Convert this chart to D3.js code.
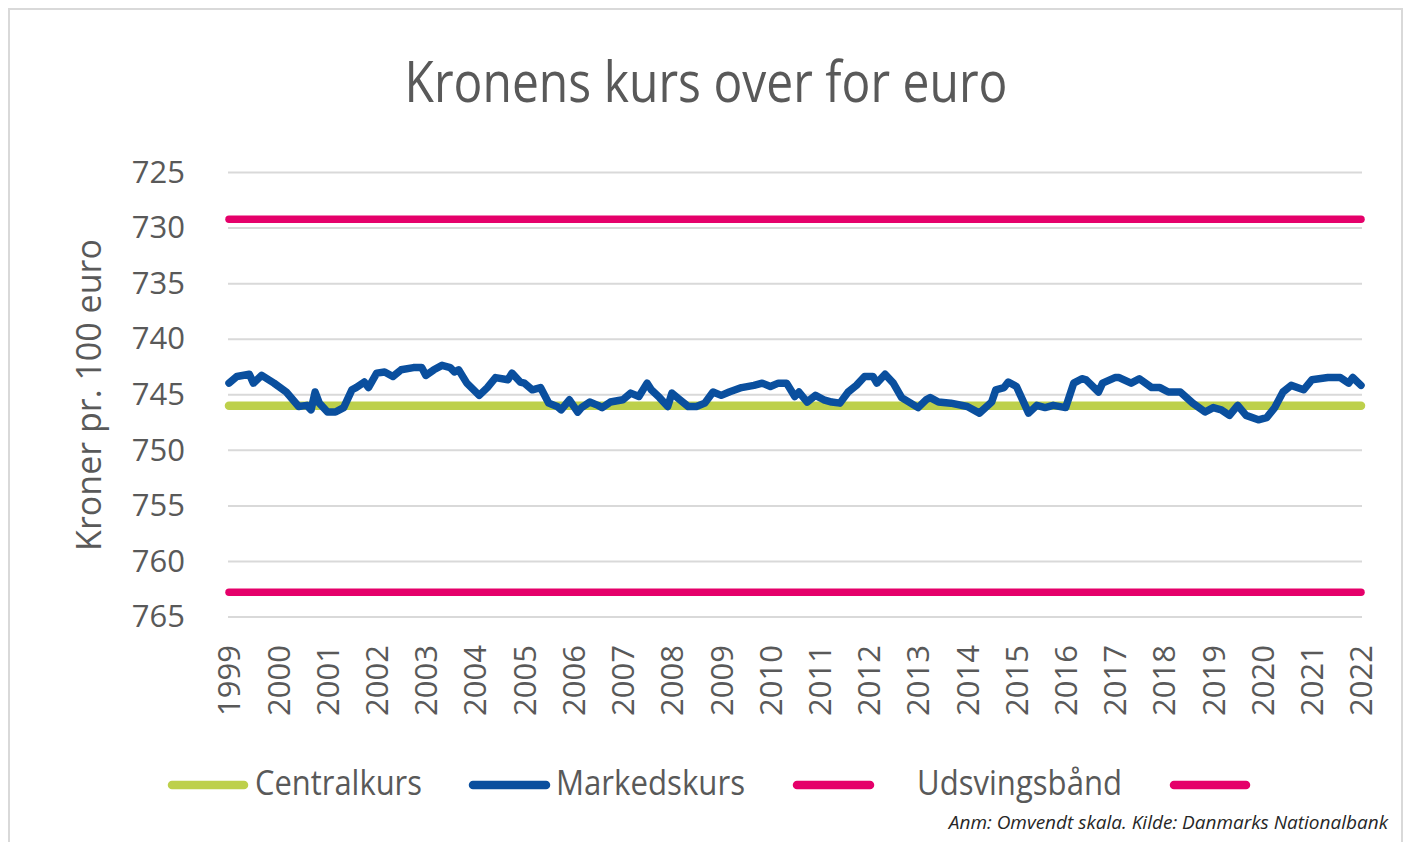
<!DOCTYPE html>
<html>
<head>
<meta charset="utf-8">
<script src="https://cdn.jsdelivr.net/npm/d3@7"></script>
<style>
  html, body { margin: 0; padding: 0; background: #fff; }
  svg { display: block; }
</style>
</head>
<body>
<svg id="chart" width="1411" height="842"></svg>
<script>
// ---- Data ----
const title = "Kronens kurs over for euro";
const yAxisTitle = "Kroner pr. 100 euro";
const footnote = "Anm: Omvendt skala. Kilde: Danmarks Nationalbank";
const yTicks = [725, 730, 735, 740, 745, 750, 755, 760, 765];
const xTickYears = [1999,2000,2001,2002,2003,2004,2005,2006,2007,2008,2009,2010,2011,2012,2013,2014,2015,2016,2017,2018,2019,2020,2021,2022];
const legendLabels = ["Centralkurs", "Markedskurs", "Udsvingsbånd"];

const centralkurs = [746.038];
const udsvingsbaand = [729.252, 762.824];

const months = [
  "1999-01","1999-03","1999-06","1999-07","1999-09","1999-12",
  "2000-03","2000-06","2000-08","2000-09","2000-10","2000-11",
  "2001-01","2001-03","2001-05","2001-07","2001-08","2001-10","2001-11",
  "2002-01","2002-03","2002-05","2002-07","2002-10","2002-12",
  "2003-01","2003-03","2003-05","2003-07","2003-08","2003-09","2003-11",
  "2004-02","2004-04","2004-06","2004-09","2004-10","2004-12",
  "2005-01","2005-03","2005-05","2005-07","2005-09","2005-10","2005-12",
  "2006-02","2006-03","2006-05","2006-07","2006-08","2006-10",
  "2007-01","2007-03","2007-05","2007-07","2007-08","2007-10","2007-12",
  "2008-01","2008-03","2008-05","2008-07","2008-09","2008-11",
  "2009-01","2009-03","2009-06","2009-09","2009-11",
  "2010-01","2010-03","2010-05","2010-07","2010-08","2010-10","2010-12",
  "2011-02","2011-04","2011-06","2011-08","2011-10","2011-12",
  "2012-02","2012-03","2012-05","2012-07","2012-09",
  "2013-01","2013-03","2013-04","2013-06","2013-09",
  "2014-01","2014-04","2014-07","2014-08","2014-10","2014-11",
  "2015-01","2015-04","2015-06","2015-08","2015-10",
  "2016-01","2016-03","2016-05","2016-06","2016-09","2016-10",
  "2017-01","2017-02","2017-05","2017-07","2017-10","2017-12",
  "2018-02","2018-05","2018-08","2018-11",
  "2019-01","2019-03","2019-05","2019-07","2019-09","2019-12",
  "2020-02","2020-04","2020-06","2020-08","2020-11",
  "2021-01","2021-05","2021-08","2021-10","2021-11",
  "2022-01"
];
const markedskurs = [
  744.0,743.4,743.2,744.0,743.3,744.0,
  744.8,746.1,746.0,746.4,744.8,745.8,
  746.6,746.6,746.2,744.6,744.4,743.9,744.4,
  743.1,743.0,743.4,742.8,742.6,742.6,
  743.3,742.8,742.4,742.6,743.0,742.8,744.0,
  745.1,744.4,743.5,743.7,743.1,743.9,
  744.0,744.6,744.4,745.8,746.1,746.4,745.5,
  746.6,746.2,745.7,746.0,746.2,745.7,
  745.5,744.9,745.2,744.0,744.6,745.3,746.1,
  744.9,745.5,746.1,746.1,745.8,744.8,
  745.1,744.8,744.4,744.2,744.0,
  744.3,744.0,744.0,745.2,744.8,745.7,745.1,
  745.5,745.7,745.8,744.8,744.2,743.4,
  743.4,744.0,743.2,744.0,745.3,
  746.2,745.5,745.3,745.7,745.8,
  746.1,746.7,745.7,744.6,744.4,743.9,
  744.3,746.7,746.0,746.2,746.0,
  746.2,744.0,743.6,743.7,744.8,744.0,
  743.5,743.5,744.0,743.6,744.4,744.4,
  744.8,744.8,745.8,746.6,
  746.2,746.4,746.9,746.0,746.9,747.3,
  747.1,746.2,744.8,744.2,744.6,
  743.7,743.5,743.5,744.0,743.5,
  744.2
];

// ---- Styles ----
const textColor = "#595959";
const gridColor = "#d9d9d9";
const colCentral = "#bdd04b";
const colMarked = "#0a4f9e";
const colBand = "#e5006a";
const fontMain = "'Liberation Sans Narrow', 'Open Sans', 'Noto Sans', sans-serif";
const fontNum = "'Open Sans', 'Noto Sans', sans-serif";

const svg = d3.select("#chart");
const parse = d3.timeParse("%Y-%m");
const series = months.map((m, i) => ({ date: parse(m), value: markedskurs[i] }));

const x = d3.scaleTime()
  .domain([new Date(1999, 0, 1), new Date(2022, 0, 1)])
  .range([229, 1361]);
const y = d3.scaleLinear()
  .domain([725, 765])
  .range([172, 616.5]);

// Frame (open at the bottom, as in the reference)
svg.append("path")
  .attr("d", "M9,842 V9 H1402 V842")
  .attr("fill", "none").attr("stroke", gridColor).attr("stroke-width", 2);

// Title
svg.append("text")
  .attr("x", 706).attr("y", 102)
  .attr("text-anchor", "middle")
  .attr("font-family", fontMain)
  .attr("font-size", 56)
  .attr("fill", textColor)
  .attr("textLength", 603).attr("lengthAdjust", "spacingAndGlyphs")
  .text(title);

// Y axis (gridlines + labels)
const yAxis = d3.axisLeft(y).tickValues(yTicks).tickSize(-(1362 - 228)).tickPadding(43).tickFormat(d3.format("d"));
const gy = svg.append("g").attr("transform", "translate(228,0)").call(yAxis);
gy.select(".domain").remove();
gy.selectAll(".tick line").attr("stroke", gridColor).attr("stroke-width", 2);
gy.selectAll(".tick text")
  .attr("fill", textColor)
  .attr("font-family", fontNum)
  .attr("font-size", 31)
  .attr("dy", "0.33em");

// Y axis title
svg.append("text")
  .attr("transform", "translate(101,395) rotate(-90)")
  .attr("text-anchor", "middle")
  .attr("font-family", fontNum)
  .attr("font-size", 34)
  .attr("fill", textColor)
  .text(yAxisTitle);

// X axis labels
const xAxis = d3.axisBottom(x)
  .tickValues(xTickYears.map(yr => new Date(yr, 0, 1)))
  .tickSize(0)
  .tickFormat(d3.timeFormat("%Y"));
const gx = svg.append("g").attr("transform", "translate(0,616)").call(xAxis);
gx.select(".domain").remove();
gx.selectAll(".tick text")
  .attr("fill", textColor)
  .attr("font-family", fontNum)
  .attr("font-size", 31)
  .attr("text-anchor", "end")
  .attr("transform", "rotate(-90)")
  .attr("x", -29)
  .attr("y", 0)
  .attr("dy", "0.35em");

// Udsvingsbånd
svg.append("g").selectAll("line")
  .data(udsvingsbaand)
  .join("line")
  .attr("x1", x.range()[0]).attr("x2", x.range()[1])
  .attr("y1", d => y(d)).attr("y2", d => y(d))
  .attr("stroke", colBand).attr("stroke-width", 7.5).attr("stroke-linecap", "round");

// Centralkurs
svg.append("g").selectAll("line")
  .data(centralkurs)
  .join("line")
  .attr("x1", x.range()[0]).attr("x2", x.range()[1])
  .attr("y1", d => y(d)).attr("y2", d => y(d))
  .attr("stroke", colCentral).attr("stroke-width", 8.5).attr("stroke-linecap", "round");

// Markedskurs
const line = d3.line().x(d => x(d.date)).y(d => y(d.value));
svg.append("path")
  .datum(series)
  .attr("d", line)
  .attr("fill", "none")
  .attr("stroke", colMarked)
  .attr("stroke-width", 7.5)
  .attr("stroke-linejoin", "round")
  .attr("stroke-linecap", "round");

// Legend
const legendItems = [
  { color: colCentral, x1: 172, x2: 244, label: legendLabels[0], tx: 255, tw: 167 },
  { color: colMarked, x1: 473, x2: 546, label: legendLabels[1], tx: 556, tw: 189 },
  { color: colBand, x1: 797, x2: 870, label: legendLabels[2], tx: 917, tw: 205 },
  { color: colBand, x1: 1174, x2: 1246, label: null }
];
const lg = svg.append("g");
legendItems.forEach(it => {
  lg.append("line")
    .attr("x1", it.x1).attr("x2", it.x2).attr("y1", 785).attr("y2", 785)
    .attr("stroke", it.color).attr("stroke-width", 8.5).attr("stroke-linecap", "round");
  if (it.label) {
    lg.append("text")
      .attr("x", it.tx).attr("y", 795)
      .attr("font-family", fontMain)
      .attr("font-size", 35)
      .attr("fill", textColor)
      .attr("textLength", it.tw).attr("lengthAdjust", "spacingAndGlyphs")
      .text(it.label);
  }
});

// Footnote
svg.append("text")
  .attr("x", 1388).attr("y", 829)
  .attr("text-anchor", "end")
  .attr("font-family", fontMain)
  .attr("font-style", "italic")
  .attr("font-size", 19)
  .attr("fill", "#262626")
  .text(footnote);
</script>
</body>
</html>
